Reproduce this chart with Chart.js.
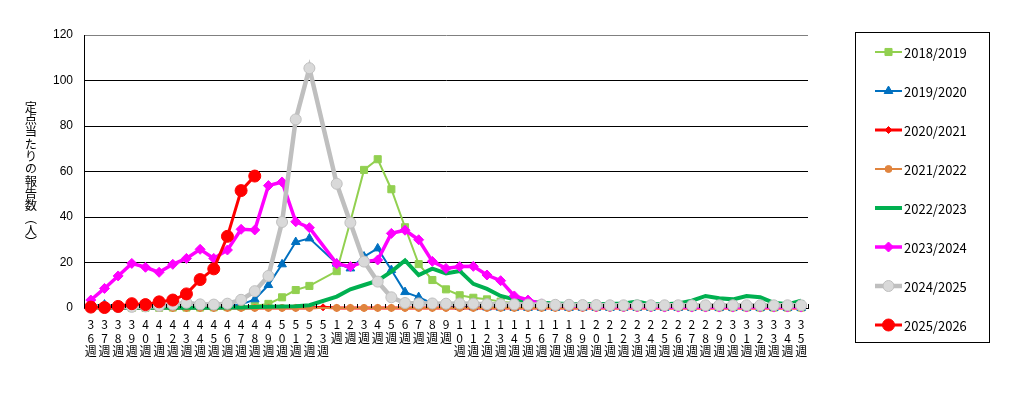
<!DOCTYPE html>
<html>
<head>
<meta charset="utf-8">
<script src="https://cdn.jsdelivr.net/npm/chart.js@4"></script>
<style>
  body { margin: 0; background: #fff; }
  #wrap { position: relative; width: 1009px; height: 398px; }
  #ytitle {
    position: absolute; left: 23px; top: 101px;
    writing-mode: vertical-rl;
    font-family: "Noto Sans CJK JP", sans-serif; font-size: 12.3px; line-height: 16px;
    color: #000;
  }
</style>
</head>
<body>
<div id="wrap">
  <canvas id="chart" width="1009" height="398"></canvas>
  <div id="ytitle">定点当たりの報告数（人）</div>
</div>
<script>
// Weeks 36..53 then 1..35
const weeks = ['36','37','38','39','40','41','42','43','44','45','46','47','48','49','50','51','52','53',
  '1','2','3','4','5','6','7','8','9','10','11','12','13','14','15','16','17','18','19','20',
  '21','22','23','24','25','26','27','28','29','30','31','32','33','34','35'];

const yTicks = [0, 20, 40, 60, 80, 100, 120];

const seasonNames = ['2018/2019','2019/2020','2020/2021','2021/2022','2022/2023','2023/2024','2024/2025','2025/2026'];

// values per week, null = no data for that week
const s2018 = [0.1,0.1,0.1,0.1,0.1,0.1,0.2,0.2,0.2,0.3,0.4,0.6,1.0,1.8,4.7,7.9,9.7,null,
  16.2,38,60.7,65.4,52.2,35.5,19.3,12.3,8.2,5.6,4.5,3.8,2.8,2.2,1.8,1.6,1.5,1.3,1.2,1.0,
  0.9,0.8,0.7,0.6,0.5,0.5,0.4,0.4,0.3,0.3,0.3,0.2,0.2,0.2,0.2];
const s2019 = [0.8,1.5,0.7,0.5,0.4,0.4,0.5,0.5,0.6,0.7,0.9,1.5,3.8,10.1,19.2,29.0,30.6,null,
  19.5,17.4,22.6,26.2,16.7,7.0,4.8,2.0,1.0,0.5,0.3,0.2,0.1,0.05,0.05,0.05,0.05,0.05,0.05,0.05,
  0.05,0.05,0.05,0.05,0.05,0.05,0.05,0.05,0.05,0.05,0.05,0.05,0.05,0.05,0.05];
const s2020 = [0.05,0.05,0.05,0.05,0.05,0.05,0.05,0.05,0.05,0.05,0.05,0.05,0.05,0.05,0.05,0.05,0.05,0.3,
  0.05,0.05,0.05,0.05,0.05,0.05,0.05,0.05,0.05,0.05,0.05,0.05,0.05,0.05,0.05,0.05,0.05,0.05,0.05,0.05,
  0.05,0.05,0.05,0.05,0.05,0.05,0.05,0.05,0.05,0.05,0.05,0.05,0.05,0.05,0.05];
const s2021 = [0.05,0.05,0.05,0.05,0.05,0.05,0.05,0.05,0.05,0.05,0.05,0.05,0.05,0.05,0.05,0.05,0.05,null,
  0.05,0.05,0.05,0.05,0.05,0.05,0.05,0.05,0.05,0.05,0.05,0.05,0.05,0.05,0.05,0.05,0.05,0.05,0.05,0.05,
  0.05,0.05,0.05,0.05,0.05,0.05,0.05,0.05,0.05,0.05,0.05,0.05,0.05,0.05,0.05];
const s2022 = [0.1,0.1,0.1,0.1,0.1,0.1,0.1,0.1,0.1,0.1,0.2,0.2,0.4,0.6,0.7,0.8,1.2,null,
  5.0,8.2,10.1,12.0,16.0,20.9,14.5,17.3,15.2,16.3,10.6,8.4,5.3,3.8,2.8,2.3,2.0,1.8,1.7,1.8,
  1.8,2.0,2.8,1.6,1.6,2.0,3.2,5.3,4.3,3.8,5.3,4.7,2.3,1.6,3.2];
const s2023 = [3.5,8.6,14.1,19.6,17.9,15.7,19.2,21.8,25.8,21.8,25.5,34.6,34.3,53.8,55.4,37.9,35.3,null,
  19.5,18.2,20.4,21.1,32.8,34.2,30.0,20.5,17.4,18.2,18.3,14.5,12.0,5.3,3.5,1.8,1.2,0.9,0.8,0.6,
  0.6,0.5,0.5,0.5,0.4,0.4,0.4,0.4,0.4,0.4,0.4,0.4,0.4,0.4,0.4];
const s2024 = [0.3,0.3,0.4,0.5,0.7,0.9,1.5,2.3,1.6,1.5,1.9,3.6,7.4,14.1,37.8,82.9,105.4,null,
  54.6,37.5,20.4,11.6,4.7,2.2,2.0,2.0,1.9,2.0,1.9,1.7,1.6,1.6,1.5,1.5,1.4,1.4,1.3,1.3,
  1.2,1.2,1.2,1.2,1.2,1.2,1.2,1.2,1.2,1.2,1.2,1.2,1.2,1.2,1.2];
const s2025 = [0.4,0.2,0.7,1.9,1.5,2.7,3.5,6.2,12.5,17.2,31.5,51.6,58.0];

const seriesValues = [s2018, s2019, s2020, s2021, s2022, s2023, s2024, s2025];

const styles = [
  { color: '#92D050', fill: '#92D050', width: 2, point: 'rect', r: 5 },
  { color: '#0070C0', fill: '#0070C0', width: 2, point: 'triangle', r: 5 },
  { color: '#FF0000', fill: '#FF0000', width: 3, point: 'rectRot', r: 3.5 },
  { color: '#E0843E', fill: '#E0843E', width: 2, point: 'circle', r: 3.5 },
  { color: '#00B050', fill: '#00B050', width: 4, point: 'dash', r: 3 },
  { color: '#FF00FF', fill: '#FF00FF', width: 3.5, point: 'rectRot', r: 5 },
  { color: '#BFBFBF', fill: '#D9D9D9', width: 4.5, point: 'circle', r: 5.5 },
  { color: '#FF0000', fill: '#FF0000', width: 3, point: 'circle', r: 6 }
];

const datasets = seriesValues.map((vals, i) => ({
  label: seasonNames[i],
  data: vals,
  borderColor: styles[i].color,
  backgroundColor: styles[i].fill,
  borderWidth: styles[i].width,
  pointStyle: styles[i].point,
  pointRadius: styles[i].r,
  pointBackgroundColor: styles[i].fill,
  pointBorderColor: styles[i].color,
  pointBorderWidth: 1,
  spanGaps: true,
  tension: 0,
  clip: false,
  order: 8 - i
}));

function drawMarker(ctx, st, x, y) {
  const r = st.r;
  ctx.save();
  ctx.fillStyle = st.fill;
  ctx.strokeStyle = st.color;
  ctx.lineWidth = 1;
  ctx.beginPath();
  if (st.point === 'circle') {
    ctx.arc(x, y, r, 0, Math.PI * 2);
  } else if (st.point === 'rect') {
    const s = r * Math.SQRT1_2;
    ctx.rect(x - s, y - s, 2 * s, 2 * s);
  } else if (st.point === 'rectRot') {
    ctx.moveTo(x, y - r); ctx.lineTo(x + r, y); ctx.lineTo(x, y + r); ctx.lineTo(x - r, y);
    ctx.closePath();
  } else if (st.point === 'triangle') {
    ctx.moveTo(x, y - r); ctx.lineTo(x + r * 0.87, y + r * 0.5); ctx.lineTo(x - r * 0.87, y + r * 0.5);
    ctx.closePath();
  } else {
    ctx.moveTo(x, y); ctx.lineTo(x + r, y);
  }
  ctx.fill();
  ctx.stroke();
  ctx.restore();
}

// small inward tick marks on the x axis + legend box on the right
const extras = {
  id: 'extras',
  afterDraw(chart) {
    const ctx = chart.ctx;
    const a = chart.chartArea;
    const n = weeks.length;
    ctx.save();
    ctx.strokeStyle = '#000';
    ctx.lineWidth = 1;
    for (let k = 0; k <= n; k++) {
      const x = Math.round(a.left + k * (a.right - a.left) / n) + 0.5;
      ctx.beginPath();
      ctx.moveTo(x, a.bottom - 4);
      ctx.lineTo(x, a.bottom);
      ctx.stroke();
    }
    // legend
    ctx.strokeRect(855.5, 32.5, 134, 310);
    ctx.font = '13px "Noto Sans CJK JP", sans-serif';
    ctx.textBaseline = 'middle';
    ctx.fillStyle = '#000';
    seasonNames.forEach((name, i) => {
      const y = 52 + 39 * i;
      const st = styles[i];
      ctx.strokeStyle = st.color;
      ctx.lineWidth = st.width;
      ctx.beginPath();
      ctx.moveTo(875, y);
      ctx.lineTo(902, y);
      ctx.stroke();
      if (st.point !== 'dash') drawMarker(ctx, st, 888.5, y);
      ctx.fillStyle = '#000';
      ctx.fillText(name, 904, y + 1);
    });
    ctx.restore();
  }
};

new Chart(document.getElementById('chart'), {
  type: 'line',
  data: {
    labels: weeks.map(w => [...w.split(''), '週']),
    datasets: datasets
  },
  options: {
    responsive: false,
    animation: false,
    layout: { padding: { left: 0, right: 201, top: 35, bottom: 0 } },
    plugins: { legend: { display: false }, tooltip: { enabled: false } },
    scales: {
      x: {
        offset: true,
        grid: { display: false },
        border: { display: true, color: '#000', width: 1 },
        ticks: {
          autoSkip: false, maxRotation: 0, minRotation: 0, padding: 2, color: '#000',
          font: { family: '"Noto Sans CJK JP", sans-serif', size: 12, lineHeight: 1.13 }
        },
        afterFit(scale) { scale.height = 90; }
      },
      y: {
        min: 0, max: 120,
        afterBuildTicks(scale) { scale.ticks = yTicks.map(v => ({ value: v })); },
        grid: {
          drawTicks: false,
          color: ctx => (ctx.tick && ctx.tick.value === 120) ? '#808080' : '#000',
          lineWidth: 1
        },
        border: { display: true, color: '#000', width: 1 },
        ticks: {
          padding: 11, color: '#000',
          font: { family: '"Liberation Sans", Arial, sans-serif', size: 12 }
        },
        afterFit(scale) { scale.width = 84; }
      }
    }
  },
  plugins: [extras]
});
</script>
</body>
</html>
